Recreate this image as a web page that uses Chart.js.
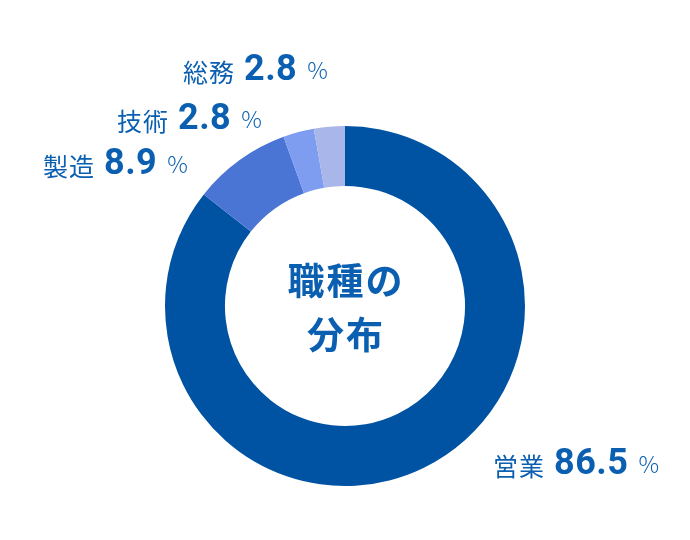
<!DOCTYPE html>
<html>
<head>
<meta charset="utf-8">
<script src="https://cdn.jsdelivr.net/npm/chart.js@4"></script>
<style>
  html, body { margin: 0; padding: 0; background: #fff; }
  #wrap { width: 690px; height: 540px; }
</style>
</head>
<body>
<div id="wrap"><canvas id="myChart" width="690" height="540"></canvas></div>
<script>
const categories = ['営業', '製造', '技術', '総務']
const shares = [86.5, 8.9, 2.8, 2.8]
const sliceColors = ['#0052a2', '#4a75d4', '#7e9cf0', '#a8b6ea']

// label anchor offsets from the doughnut centre (name start x, text baseline y)
const labelOffsets = [[148, 167], [-302, -133], [-228, -178], [-162, -227]]

const textBlue = '#0b5fb0'
const jp = '"Noto Sans CJK JP", "Noto Sans", sans-serif'

const labelPlugin = {
  id: 'labels',
  afterDraw (chart) {
    const ctx = chart.ctx
    const arc = chart.getDatasetMeta(0).data[0]
    const cx = arc.x
    const cy = arc.y
    ctx.save()
    ctx.fillStyle = textBlue
    ctx.textBaseline = 'alphabetic'
    ctx.textAlign = 'left'

    categories.forEach((name, i) => {
      let x = cx + labelOffsets[i][0]
      const y = cy + labelOffsets[i][1]
      ctx.font = '400 25px ' + jp
      ctx.letterSpacing = '1px'
      ctx.fillText(name, x, y + 3)
      x += ctx.measureText(name).width + 9
      ctx.font = '700 36px Roboto, ' + jp
      ctx.letterSpacing = '0.5px'
      const num = shares[i].toFixed(1)
      ctx.fillText(num, x, y + 1)
      x += ctx.measureText(num).width + 10
      ctx.font = '300 23px ' + jp
      ctx.letterSpacing = '0px'
      ctx.fillText('%', x, y)
    })

    ctx.textAlign = 'center'
    ctx.textBaseline = 'middle'
    ctx.font = '700 37px ' + jp
    ctx.letterSpacing = '2px'
    ctx.fillText('職種の', cx + 1, cy - 25)
    ctx.fillText('分布', cx + 1, cy + 29)
    ctx.restore()
  }
}

const ctx = document.querySelector('#myChart')
const myChart = new Chart(ctx, {
  type: 'doughnut',
  data: {
    labels: categories,
    datasets: [{
      data: shares,
      backgroundColor: sliceColors,
      borderWidth: 0
    }]
  },
  options: {
    responsive: false,
    animation: false,
    cutout: '66.7%',
    layout: { padding: { top: 126, bottom: 54, left: 0, right: 0 } },
    plugins: {
      legend: { display: false },
      tooltip: { enabled: false }
    }
  },
  plugins: [labelPlugin]
})
</script>
</body>
</html>
